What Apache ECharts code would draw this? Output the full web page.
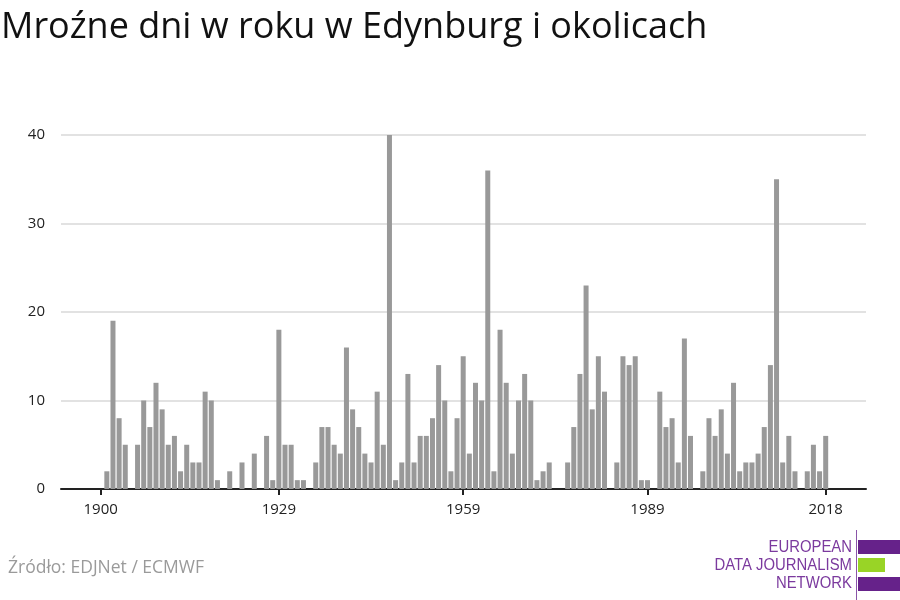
<!DOCTYPE html>
<html>
<head>
<meta charset="utf-8">
<script src="https://cdn.jsdelivr.net/npm/echarts@6/dist/echarts.min.js"></script>
<style>html,body{margin:0;padding:0;background:#fff}#c{width:900px;height:600px}</style>
</head>
<body>
<div id="c"></div>
<script>
const years = [];
for (let y = 1900; y <= 2018; y++) years.push(y);
const frostDays = [
  0, 2, 19, 8, 5, 0, 5, 10, 7, 12,
  9, 5, 6, 2, 5, 3, 3, 11, 10, 1,
  0, 2, 0, 3, 0, 4, 0, 6, 1, 18,
  5, 5, 1, 1, 0, 3, 7, 7, 5, 4,
  16, 9, 7, 4, 3, 11, 5, 40, 1, 3,
  13, 3, 6, 6, 8, 14, 10, 2, 8, 15,
  4, 12, 10, 36, 2, 18, 12, 4, 10, 13,
  10, 1, 2, 3, 0, 0, 3, 7, 13, 23,
  9, 15, 11, 0, 3, 15, 14, 15, 1, 1,
  0, 11, 7, 8, 3, 17, 6, 0, 2, 8,
  6, 9, 4, 12, 2, 3, 3, 4, 7, 14,
  35, 3, 6, 2, 0, 2, 5, 2, 6
];
const xTickYears = [1900, 1929, 1959, 1989, 2018];
const yTicks = [0, 10, 20, 30, 40];
const titleText = 'Mroźne dni w roku w Edynburg i okolicach';
const sourceText = 'Źródło: EDJNet / ECMWF';

const chart = echarts.init(document.getElementById('c'), null, {renderer: 'canvas'});
const FONT = '"Open Sans", sans-serif';
chart.setOption({
  animation: false,
  backgroundColor: '#fff',
  title: {
    text: titleText,
    left: 1, top: 10, padding: 0,
    textStyle: {fontFamily: FONT, fontSize: 36, fontWeight: 'normal', color: '#111'}
  },
  grid: {left: 61, right: 34, top: 135, bottom: 111, containLabel: false},
  xAxis: {
    type: 'value',
    min: 1893.54, max: 2024.56,
    axisLine: {show: true, lineStyle: {color: '#222', width: 2}},
    axisTick: {show: true, customValues: xTickYears, length: 6, lineStyle: {color: '#222', width: 2}},
    axisLabel: {customValues: xTickYears, fontFamily: FONT, fontSize: 15, color: '#222', margin: 13,
      formatter: v => String(v)},
    splitLine: {show: false}
  },
  yAxis: {
    type: 'value', min: 0, max: 40, interval: 10,
    axisLine: {show: false}, axisTick: {show: false},
    axisLabel: {fontFamily: FONT, fontSize: 15, color: '#222', margin: 16},
    splitLine: {show: true, lineStyle: {color: '#e2e2e2', width: 2}}
  },
  series: [{
    type: 'bar',
    data: years.map((y, i) => [y, frostDays[i]]),
    barWidth: 5,
    itemStyle: {color: '#999999'},
    z: 1
  }],
  graphic: [
    {type: 'text', left: 8, top: 559, style: {text: sourceText, font: '17.5px "Open Sans", sans-serif', fill: '#9a9a9a'}},
    {type: 'line', shape: {x1: 856.5, y1: 530, x2: 856.5, y2: 600}, style: {stroke: '#8a55a8', lineWidth: 1}},
    {type: 'rect', shape: {x: 858, y: 540, width: 42, height: 14}, style: {fill: '#66228a'}},
    {type: 'rect', shape: {x: 858, y: 558, width: 27, height: 14}, style: {fill: '#99d426'}},
    {type: 'rect', shape: {x: 858, y: 577, width: 42, height: 14}, style: {fill: '#66228a'}},
    {type: 'text', x: 852, y: 548, scaleX: 0.93, style: {text: 'EUROPEAN', font: '16px "Liberation Sans", sans-serif', fill: '#7b3a9e', align: 'right', verticalAlign: 'middle'}},
    {type: 'text', x: 852, y: 566, scaleX: 0.93, style: {text: 'DATA JOURNALISM', font: '16px "Liberation Sans", sans-serif', fill: '#7b3a9e', align: 'right', verticalAlign: 'middle'}},
    {type: 'text', x: 852, y: 584, scaleX: 0.93, style: {text: 'NETWORK', font: '16px "Liberation Sans", sans-serif', fill: '#7b3a9e', align: 'right', verticalAlign: 'middle'}}
  ]
});
</script>
</body>
</html>
